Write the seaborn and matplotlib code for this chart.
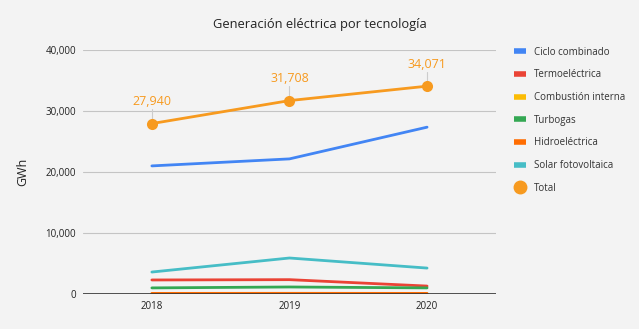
import matplotlib
matplotlib.use("Agg")
import matplotlib.pyplot as plt
import seaborn as sns
import pandas as pd
from matplotlib.lines import Line2D

years = ["2018", "2019", "2020"]
ciclo_combinado = [21000, 22150, 27350]
termoelectrica = [2300, 2350, 1300]
combustion_interna = [40, 45, 45]
turbogas = [1000, 1150, 1000]
hidroelectrica = [100, 110, 100]
solar_fotovoltaica = [3600, 5900, 4250]
total = [27940, 31708, 34071]

series_names = ["Ciclo combinado", "Termoeléctrica", "Combustión interna",
                "Turbogas", "Hidroeléctrica", "Solar fotovoltaica"]
series_values = [ciclo_combinado, termoelectrica, combustion_interna,
                 turbogas, hidroelectrica, solar_fotovoltaica]
colors = ["#4285f4", "#ea4335", "#fbbc04", "#34a853", "#ff6d01", "#46bdc6"]
total_color = "#f79a1f"

rows = []
for name, vals in zip(series_names, series_values):
    for i, v in enumerate(vals):
        rows.append({"x": i, "year": years[i], "serie": name, "GWh": v})
df = pd.DataFrame(rows)
df_total = pd.DataFrame({"x": range(len(years)), "GWh": total})

sns.set_theme(style="white")
plt.rcParams["font.family"] = ["Open Sans", "DejaVu Sans"]
bg = "#f3f3f3"

fig = plt.figure(figsize=(6.39, 3.29), dpi=100, facecolor=bg)
ax = fig.add_axes([0.130, 0.1064, 0.646, 0.7416], facecolor=bg)

sns.lineplot(data=df, x="x", y="GWh", hue="serie", hue_order=series_names,
             palette=colors, linewidth=2, ax=ax, legend=False)
sns.lineplot(data=df_total, x="x", y="GWh", color=total_color, linewidth=2,
             marker="o", markersize=8, markeredgewidth=0, ax=ax, legend=False)

# value labels on the total with short leader lines
for i, v in enumerate(total):
    ax.plot([i, i], [v + 700, v + 2400], color="#cccccc", lw=0.8, zorder=1)
    ax.annotate(f"{v:,}", (i, v), xytext=(0, 11), textcoords="offset points",
                ha="center", va="bottom", color=total_color, fontsize=9)

ax.set_xlim(-0.5, 2.5)
ax.set_ylim(0, 40000)
ax.set_xticks(range(len(years)))
ax.set_xticklabels(years)
ax.set_yticks([0, 10000, 20000, 30000, 40000])
ax.set_yticklabels([f"{t:,}" for t in [0, 10000, 20000, 30000, 40000]])
ax.tick_params(axis="both", labelsize=7, length=0, colors="#222222", pad=5)
ax.grid(axis="y", color="#c4c4c4", linewidth=0.8)
ax.axhline(0, color="#333333", linewidth=1.2, zorder=3)
for s in ax.spines.values():
    s.set_visible(False)
ax.set_xlabel("")
ax.set_ylabel("GWh", fontsize=9, color="#222222", labelpad=12)

fig.suptitle("Generación eléctrica por tecnología", x=0.5, y=0.945,
             fontsize=9.3, color="#222222")

handles = [Line2D([0], [0], color=c, lw=4, solid_capstyle="butt") for c in colors]
handles.append(Line2D([0], [0], color=total_color, lw=0, marker="o", markersize=9))
labels = series_names + ["Total"]
fig.legend(handles, labels, loc="upper left", bbox_to_anchor=(0.797, 0.873),
           frameon=False, fontsize=7, labelcolor="#333333", handlelength=1.2,
           handletextpad=0.8, labelspacing=1.2, borderpad=0)

fig.savefig("out.png", dpi=100, facecolor=bg)
